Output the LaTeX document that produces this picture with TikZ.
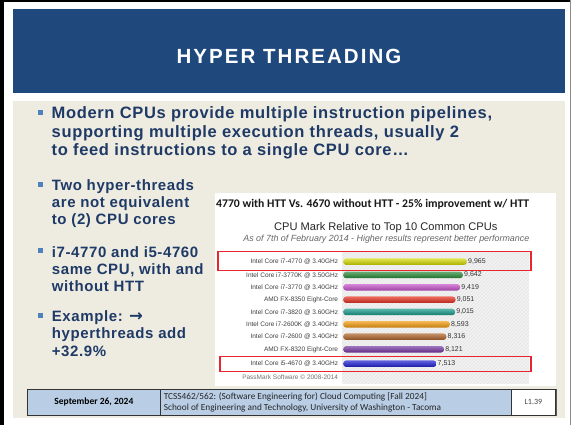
\documentclass[tikz,border=0pt]{standalone}
\usepackage{fontspec}
\setmainfont{Liberation Sans}
\newfontfamily\titlefont[LetterSpace=10]{Liberation Sans}
\newfontfamily\bodyfont[LetterSpace=4]{Liberation Sans}
\newfontfamily\calfont{Carlito}
\newfontfamily\arrowfont{DejaVu Sans}
\definecolor{titleblue}{HTML}{1F497D}
\definecolor{beige}{HTML}{EEECE1}
\definecolor{textblue}{HTML}{1F3A66}
\definecolor{bulletblue}{HTML}{4F81BD}
\definecolor{footblue}{HTML}{B9CDE5}
\definecolor{hlred}{HTML}{E8262C}
\definecolor{cA}{HTML}{D4DA00}
\definecolor{cB}{HTML}{278A36}
\definecolor{cC}{HTML}{C552C9}
\definecolor{cD}{HTML}{E6301F}
\definecolor{cE}{HTML}{16988A}
\definecolor{cF}{HTML}{F39C0C}
\definecolor{cG}{HTML}{AE6227}
\definecolor{cH}{HTML}{7637A3}
\definecolor{cI}{HTML}{1F1FD4}
\begin{document}
\begin{tikzpicture}[x=1pt,y=-1pt,
  panel/.style={inner sep=0pt, outer sep=0pt, anchor=north west, draw=none},
  bodybig/.style={font=\bodyfont\bfseries\fontsize{16.5}{18}\selectfont, text=textblue, anchor=base west, inner sep=0pt},
  body/.style={font=\bodyfont\bfseries\fontsize{15}{17}\selectfont, text=textblue, anchor=base west, inner sep=0pt},
  bulletsq/.style={fill=bulletblue, minimum size=5pt, inner sep=0pt},
  rowlabel/.style={font=\fontsize{6.5}{7.5}\selectfont, text=black!75, anchor=base east, inner sep=0pt},
  barstyle/.style={rounded corners=3pt, minimum height=6.5pt, inner sep=0pt, anchor=west},
  valstyle/.style={font=\fontsize{7}{8}\selectfont, text=black!80, anchor=west, inner sep=0.8pt},
  redbox/.style={draw=hlred, line width=1.5pt, inner sep=0pt, anchor=north west},
  footcell/.style={draw=black!80, line width=0.8pt, inner sep=0pt, anchor=north west}
]
\useasboundingbox (0,0) rectangle (574,425);
\fill[white] (0,0) rectangle (574,425);
\fill[black] (0,0) rectangle (3.5,425);
\fill[black] (0,0) rectangle (571,2.5);
\draw[black!45, line width=0.8pt] (570.5,0) -- (570.5,425);

% title bar
\node[panel, fill=titleblue, minimum width=552pt, minimum height=84pt] (titlebar) at (13,9) {};
\node[font=\titlefont\bfseries\fontsize{20.5}{24}\selectfont, text=white, anchor=base, inner sep=0pt] (title) at (289,64) {HYPER THREADING};

% content area
\node[panel, fill=beige, minimum width=552pt, minimum height=317pt] (content) at (13,101) {};

% first bullet
\node[bulletsq] (bu1) at (40.8,112.2) {};
\node[bodybig] (t1a) at (51.5,119) {Modern CPUs provide multiple instruction pipelines,};
\node[bodybig] (t1b) at (51.5,137.5) {supporting multiple execution threads, usually 2};
\node[bodybig] (t1c) at (51.5,156) {to feed instructions to a single CPU core…};

% second bullet
\node[bulletsq] (bu2) at (40.8,184.2) {};
\node[body] (t2a) at (51.7,190.7) {Two hyper-threads};
\node[body] (t2b) at (51.7,207.5) {are not equivalent};
\node[body] (t2c) at (51.7,224.5) {to (2) CPU cores};

% third bullet
\node[bulletsq] (bu3) at (40.8,250.8) {};
\node[body] (t3a) at (51.7,257.3) {i7-4770 and i5-4760};
\node[body] (t3b) at (51.7,274.5) {same CPU, with and};
\node[body] (t3c) at (51.7,291.5) {without HTT};

% fourth bullet
\node[bulletsq] (bu4) at (40.8,315.2) {};
\node[body] (t4a) at (51.7,321.7) {Example: {\arrowfont\bfseries\fontsize{16.5}{17}\selectfont →}};
\node[body] (t4b) at (51.7,339) {hyperthreads add};
\node[body] (t4c) at (51.7,356) {+32.9\%};

% chart
\node[panel, fill=white, minimum width=341pt, minimum height=193pt] (chartbg) at (215,192.7) {};
\node[font=\calfont\bfseries\fontsize{11.7}{13}\selectfont, text=black!90, anchor=base west, inner sep=0pt] (chtitle) at (216,207.7) {4770 with HTT Vs. 4670 without HTT - 25\% improvement w/ HTT};
\node[font=\fontsize{11.1}{13}\selectfont, text=black!85, anchor=base, inner sep=0pt] (cmtitle) at (385.8,230.5) {CPU Mark Relative to Top 10 Common CPUs};
\node[font=\itshape\fontsize{8.9}{10}\selectfont, text=black!60, anchor=base, inner sep=0pt] (cmsub) at (386.3,241.5) {As of 7th of February 2014 - Higher results represent better performance};

% hatched plot area
\node[panel, fill=black!5, minimum width=187pt, minimum height=132pt] (plotbg) at (342,252) {};
\begin{scope}
  \clip (342,252) rectangle (529,384);
  \foreach \k in {0,...,95} {
    \draw[black!11, line width=0.5pt] (200+\k*3.5,384) -- ++(140,-140);
  }
\end{scope}

\foreach \i/\yy/\lab/\val/\vtxt/\col in {
  1/261.7/{Intel Core i7-4770 @ 3.40GHz}/9965/{9,965}/cA,
  2/275/{Intel Core i7-3770K @ 3.50GHz}/9642/{9,642}/cB,
  3/287.3/{Intel Core i7-3770 @ 3.40GHz}/9419/{9,419}/cC,
  4/299.7/{AMD FX-8350 Eight-Core}/9051/{9,051}/cD,
  5/312/{Intel Core i7-3820 @ 3.60GHz}/9015/{9,015}/cE,
  6/324.3/{Intel Core i7-2600K @ 3.40GHz}/8593/{8,593}/cF,
  7/336.7/{Intel Core i7-2600 @ 3.40GHz}/8316/{8,316}/cG,
  8/349.3/{AMD FX-8320 Eight-Core}/8121/{8,121}/cH,
  9/363.7/{Intel Core i5-4670 @ 3.40GHz}/7513/{7,513}/cI}{
  \pgfmathsetmacro\len{\val*0.01242}
  \node[rowlabel] (lab\i) at (338.3,\yy+2.3) {\lab};
  \node[barstyle, minimum width=\len pt, top color=\col!70!white, middle color=\col, bottom color=\col!80!black] (bar\i) at (343,\yy) {};
  \node[valstyle] (val\i) at (bar\i.east) {\vtxt};
}
\node[rowlabel, text=black!55] (passmark) at (338.3,380) {PassMark Software © 2008-2014};

% highlight boxes
\node[redbox, minimum width=313pt, minimum height=19.3pt] (hl1) at (217,250.7) {};
\node[redbox, minimum width=310.7pt, minimum height=15pt] (hl2) at (219.3,355.7) {};

% footer
\draw[black!65, line width=1.6pt] (556.5,389.5) -- (556.5,415.5);
\node[footcell, fill=footblue, minimum width=133pt, minimum height=26pt, font=\calfont\bfseries\fontsize{9.5}{11}\selectfont] (fdate) at (27,389) {September 26, 2024};
\node[footcell, fill=footblue, minimum width=351pt, minimum height=26pt] (fmid) at (160,389) {};
\node[footcell, fill=white, minimum width=44pt, minimum height=26pt, font=\calfont\fontsize{8}{9}\selectfont, text=black!75] (fnum) at (511,389) {L1.39};
\node[anchor=west, align=left, inner sep=0pt, font=\calfont\fontsize{9.3}{11}\selectfont, text=black!85] (ftxt) at ([xshift=3.7pt]fmid.west) {TCSS462/562: (Software Engineering for) Cloud Computing [Fall 2024]\\School of Engineering and Technology, University of Washington - Tacoma};
\end{tikzpicture}
\end{document}
